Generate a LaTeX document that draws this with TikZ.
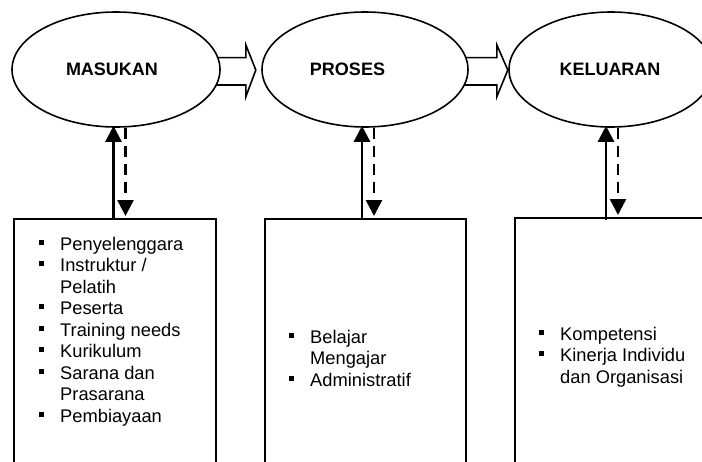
\documentclass[tikz,border=0pt]{standalone}
\usepackage{fontspec}
\setmainfont{Liberation Sans}
\usetikzlibrary{shapes.geometric,arrows.meta,calc,backgrounds}
\newcommand\mybul{\llap{\raisebox{5.5pt}{\rule{5pt}{5pt}}\hspace{16pt}}}
\begin{document}
\begin{tikzpicture}[x=1pt,y=-1pt,
  ell/.style={ellipse,draw,line width=1.6pt,fill=white,inner sep=0pt,minimum height=115pt},
  blockarr/.style={draw,line width=1.6pt,fill=white,line join=miter},
  boxnode/.style={rectangle,draw,line width=2pt,anchor=north west,inner sep=0pt,minimum height=280pt},
  lbl/.style={font=\fontsize{18}{21}\selectfont\bfseries,inner sep=0pt,anchor=base},
  listtxt/.style={font=\fontsize{18.3}{21.5}\selectfont,inner sep=0pt,anchor=base west},
  solidarr/.style={line width=2.5pt,-{Triangle[width=16pt,length=16pt]}},
  dasharr/.style={line width=2.5pt,dash pattern=on 11pt off 7pt,-{Triangle[width=16pt,length=16pt]},shorten >=1.5pt}]
\useasboundingbox (0,0) rectangle (702,461);
\clip (0,0) rectangle (702,461);

% ellipses
\node[ell,minimum width=208pt] (e1) at (116,69.5) {};
\node[ell,minimum width=206pt] (e2) at (365,69.5) {};
\node[ell,minimum width=204pt] (e3) at (611,69.5) {};

% labels
\node[lbl] (t1) at (112,75) {MASUKAN};
\node[lbl] (t2) at (347.5,75) {PROSES};
\node[lbl] (t3) at (610,75) {KELUARAN};

% block arrows (behind ellipses)
\begin{pgfonlayer}{background}
\begin{scope}[shift={(e1.east)}]
\draw[blockarr] (-20,-11.9) -- (25,-11.9) -- (25,-24.7) -- (35,0.5) -- (25,27.3) -- (25,15.5) -- (-20,15.5) -- cycle;
\end{scope}
\begin{scope}[shift={(e2.east)}]
\draw[blockarr] (-20,-11.9) -- (28,-11.9) -- (28,-24.7) -- (39,0.5) -- (28,27.3) -- (28,15.5) -- (-20,15.5) -- cycle;
\end{scope}
\end{pgfonlayer}

% boxes
\node[boxnode,minimum width=202pt] (b1) at (13,217.5) {};
\node[boxnode,minimum width=201pt] (b2) at (264,217.5) {};
\node[boxnode,minimum width=220pt] (b3) at (514,216.5) {};

% lists
\node[listtxt] (l1) at (60,250) {\begin{tabular}[t]{@{}l@{}}
\mybul Penyelenggara\\
\mybul Instruktur /\\
Pelatih\\
\mybul Peserta\\
\mybul Training needs\\
\mybul Kurikulum\\
\mybul Sarana dan\\
Prasarana\\
\mybul Pembiayaan
\end{tabular}};
\node[listtxt] (l2) at (310,343) {\begin{tabular}[t]{@{}l@{}}
\mybul Belajar\\
Mengajar\\
\mybul Administratif
\end{tabular}};
\node[listtxt] (l3) at (560,340) {\begin{tabular}[t]{@{}l@{}}
\mybul Kompetensi\\
\mybul Kinerja Individu\\
dan Organisasi
\end{tabular}};

% vertical connectors
\coordinate (s1) at (113.5,0);
\coordinate (d1) at (125.5,0);
\coordinate (s2) at (362,0);
\coordinate (d2) at (374,0);
\coordinate (s3) at (606,0);
\coordinate (d3) at (618,0);
\draw[solidarr] (b1.north -| s1) -- ([yshift=2pt]e1.south -| s1);
\draw[dasharr] (e1.south -| d1) -- (b1.north -| d1);
\draw[solidarr] (b2.north -| s2) -- ([yshift=2pt]e2.south -| s2);
\draw[dasharr] (e2.south -| d2) -- (b2.north -| d2);
\draw[solidarr] ([yshift=-3pt]b3.north -| s3) -- ([yshift=2pt]e3.south -| s3);
\draw[dasharr] (e3.south -| d3) -- (b3.north -| d3);
\end{tikzpicture}
\end{document}
